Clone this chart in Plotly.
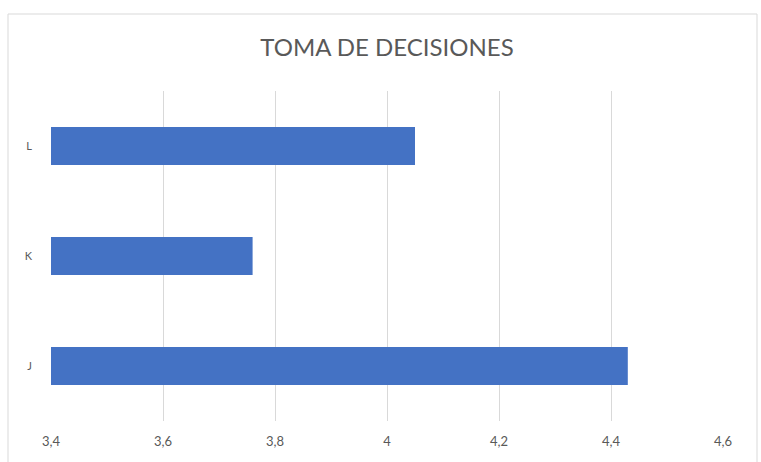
import plotly.graph_objects as go

categories = ["J", "K", "L"]
values = [4.43, 3.76, 4.05]
x_ticks = [3.4, 3.6, 3.8, 4.0, 4.2, 4.4, 4.6]
x_tick_labels = ["3,4", "3,6", "3,8", "4", "4,2", "4,4", "4,6"]
title_text = "TOMA DE DECISIONES"

W, H = 761, 462
L_, R_, T_, B_ = 51, 38, 91, 41
pw = W - L_ - R_
ph = H - T_ - B_

fig = go.Figure(go.Bar(
    y=categories, x=values, orientation="h",
    marker=dict(color="#4472C4", line=dict(width=0)),
))

fig.update_layout(
    width=W, height=H,
    margin=dict(l=L_, r=R_, t=T_, b=B_, autoexpand=False),
    paper_bgcolor="white", plot_bgcolor="white",
    bargap=0.655,
    showlegend=False,
    separators=",.",
    title=dict(text=title_text, x=0.5, xanchor="center", xref="paper",
               y=1 - 48 / H, yanchor="middle", yref="container", automargin=False,
               font=dict(family="Lato, Open Sans, sans-serif", size=24, color="#595959")),
    font=dict(family="Lato, Open Sans, sans-serif", color="#595959"),
    xaxis=dict(range=[3.4, 4.6], tickvals=x_ticks, ticktext=x_tick_labels,
               showgrid=True, gridcolor="#d9d9d9", gridwidth=1, zeroline=False,
               showline=False, ticks="", ticklabelstandoff=11, automargin=False,
               tickfont=dict(size=13, color="#595959")),
    yaxis=dict(showgrid=False, zeroline=False, showline=False, ticks="",
               ticklabelstandoff=18, automargin=False,
               tickfont=dict(size=11, color="#595959")),
)

fig.add_shape(type="rect", xref="paper", yref="paper",
              x0=(8 - L_) / pw, x1=(757 - L_) / pw,
              y0=(H - B_ - 475) / ph, y1=(H - B_ - 14) / ph,
              line=dict(color="#d9d9d9", width=1), fillcolor="rgba(0,0,0,0)", layer="below")

fig.write_html("out.html", config={"displayModeBar": False},
               post_script="document.body.style.margin='0';document.body.style.padding='0';")
